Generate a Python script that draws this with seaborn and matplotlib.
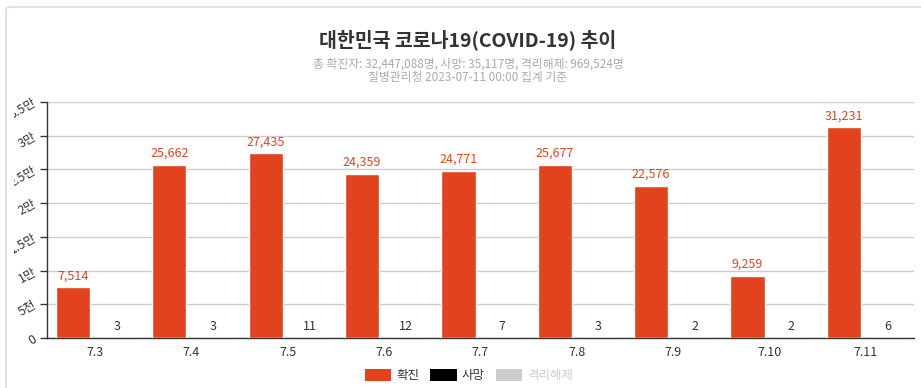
import matplotlib
matplotlib.use("Agg")
import matplotlib.pyplot as plt
import seaborn as sns
import pandas as pd
from matplotlib.patches import Patch, FancyBboxPatch
from matplotlib.transforms import Bbox, TransformedBbox
from matplotlib.ticker import FixedLocator

dates = ["7.3", "7.4", "7.5", "7.6", "7.7", "7.8", "7.9", "7.10", "7.11"]
confirmed = [7514, 25662, 27435, 24359, 24771, 25677, 22576, 9259, 31231]
deaths = [3, 3, 11, 12, 7, 3, 2, 2, 6]
series_names = ["확진", "사망", "격리해제"]
y_ticks = [0, 5000, 10000, 15000, 20000, 25000, 30000, 35000]
y_tick_labels = ["0", "5천", "1만", "1.5만", "2만", "2.5만", "3만", "3.5만"]
title = "대한민국 코로나19(COVID-19) 추이"
subtitle = "총 확진자: 32,447,088명, 사망: 35,117명, 격리해제: 969,524명\n질병관리청 2023-07-11 00:00 집계 기준"

RED = "#e2431e"
BLACK = "#000000"
GRAY = "#cccccc"
TXT = "#333333"

sns.set_theme(style="white")
plt.rcParams["font.family"] = ["Noto Sans CJK KR", "DejaVu Sans"]

df = pd.DataFrame({
    "date": dates * 2,
    "series": [series_names[0]] * len(dates) + [series_names[1]] * len(dates),
    "value": confirmed + deaths,
})

W, H = 921, 388
fig = plt.figure(figsize=(W / 100, H / 100), dpi=100)
fig.patch.set_facecolor("white")

# card border
card = FancyBboxPatch((6 / W, 1 - 420 / H), 940 / W, 413 / H,
                      boxstyle="round,pad=0,rounding_size=0.006",
                      transform=fig.transFigure, facecolor="none",
                      edgecolor="#dddddd", linewidth=1.2, zorder=-1)
fig.patches.append(card)

ax = fig.add_axes([46.7 / W, 1 - 338 / H, (914 - 46.7) / W, (338 - 102) / H])
ax.set_facecolor("none")

sns.barplot(data=df, x="date", y="value", hue="series", order=dates,
            hue_order=series_names[:2], palette=[RED, BLACK], saturation=1,
            width=0.91, gap=0.22, legend=False, ax=ax, zorder=3,
            err_kws={"linewidth": 0})

conts = ax.containers
ax.bar_label(conts[0], labels=[f"{v:,}" for v in confirmed], padding=3.5,
             color=RED, fontsize=9)
ax.bar_label(conts[1], labels=[f"{v:,}" for v in deaths], padding=3.5,
             color=TXT, fontsize=9)

ax.set_xlim(-0.5, len(dates) - 0.5)
ax.set_ylim(0, 35000)
ax.yaxis.set_major_locator(FixedLocator(y_ticks))
ax.set_yticklabels(y_tick_labels)
ax.set_xlabel("")
ax.set_ylabel("")
ax.grid(axis="y", color="#cccccc", linewidth=1, zorder=0)
ax.set_axisbelow(True)
for s in ["top", "right"]:
    ax.spines[s].set_visible(False)
for s in ["left", "bottom"]:
    ax.spines[s].set_color(TXT)
    ax.spines[s].set_linewidth(1)

ax.set_xticks([i - 0.5 for i in range(len(dates) + 1)], minor=True)
ax.tick_params(axis="x", which="major", length=0, pad=6, labelsize=9, labelcolor=TXT)
ax.tick_params(axis="x", which="minor", length=5, width=1, color=TXT, direction="out")
ax.tick_params(axis="y", which="major", length=5, width=1, color=TXT, direction="out",
               left=True, pad=3, labelsize=9, labelcolor=TXT)

clip = TransformedBbox(Bbox([[14 / W, 0], [1, 1]]), fig.transFigure)
for lab in ax.get_yticklabels():
    lab.set_rotation(30)
    lab.set_rotation_mode("anchor")
    lab.set_ha("right")
    lab.set_va("center")
    lab.set_clip_box(clip)
    lab.set_clip_on(True)

fig.text(468 / W, 1 - 40 / H, title, ha="center", va="center",
         fontsize=14, fontweight="bold", color=TXT)
fig.text(468 / W, 1 - 70.5 / H, subtitle, ha="center", va="center",
         fontsize=8.5, color="#aaaaaa", linespacing=1.05)

handles = [Patch(facecolor=RED, edgecolor="none"),
           Patch(facecolor=BLACK, edgecolor="none"),
           Patch(facecolor=GRAY, edgecolor="none")]
leg = fig.legend(handles, series_names, loc="center", bbox_to_anchor=(469 / W, 1 - 375.5 / H),
                 ncol=3, frameon=False, fontsize=9, handlelength=2.1, handleheight=1.1,
                 handletextpad=0.4, columnspacing=0.9, borderaxespad=0, borderpad=0)
for t, c in zip(leg.get_texts(), [TXT, TXT, "#cccccc"]):
    t.set_color(c)

fig.savefig("out.png", dpi=100)
